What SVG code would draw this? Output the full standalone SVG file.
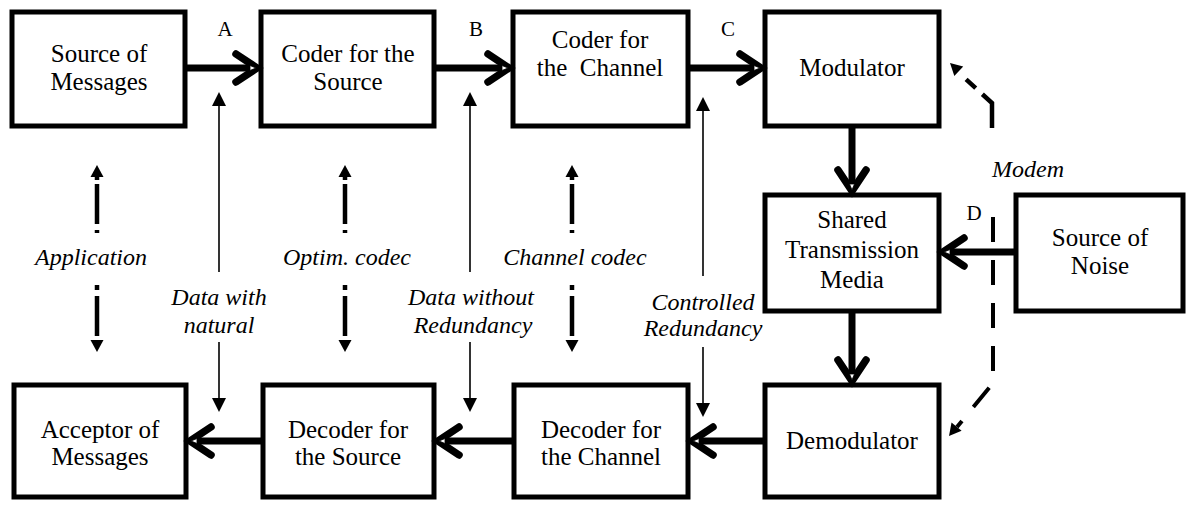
<svg xmlns="http://www.w3.org/2000/svg" xmlns:xlink="http://www.w3.org/1999/xlink" width="1190" height="506" viewBox="0 0 1190 506" font-family="Liberation Serif, DejaVu Serif, serif">
  <style>
    .box { fill: #fff; stroke: #000; stroke-width: 5; }
    text { font-family: 'Liberation Serif', 'DejaVu Serif', serif; }
    .lbl { font-size: 25px; fill: #000; text-anchor: middle; }
    .it { font-size: 24px; font-style: italic; fill: #000; text-anchor: middle; }
    .pt { font-size: 21px; fill: #000; text-anchor: middle; }
    .thick { stroke: #000; stroke-width: 7; fill: none; }
    .thin { stroke: #000; stroke-width: 1.6; fill: none; }
    .dash { stroke: #000; stroke-width: 4.5; fill: none; }
    .modem { stroke: #000; stroke-width: 4; fill: none; stroke-dasharray: 25 18; }
  </style>
  <defs>
    <!-- open chevron head, tip at origin, pointing +x -->
    <g id="chev">
      <path d="M-22,-14 L-1,0 L-22,14" stroke="#000" stroke-width="7.5" fill="none" stroke-linecap="round" stroke-linejoin="miter"/>
      <polygon points="-8,-2.5 -2,0 -8,2.5" fill="#fff" stroke="#000" stroke-width="0.8"/>
    </g>
    <!-- small filled head, tip at origin, pointing +x -->
    <polygon id="tri" points="0,0 -14,-7 -14,7" fill="#000"/>
    <polygon id="tri2" points="0,0 -12,-6.5 -12,6.5" fill="#000"/>
  </defs>

  <!-- nodes -->
  <g id="source-messages">
    <rect class="box" x="12" y="12" width="173" height="114"/>
    <text class="lbl" x="99" y="62">Source of</text>
    <text class="lbl" x="99" y="90">Messages</text>
  </g>
  <g id="coder-source">
    <rect class="box" x="261" y="12" width="173" height="114"/>
    <text class="lbl" x="348" y="62">Coder for the</text>
    <text class="lbl" x="348" y="90">Source</text>
  </g>
  <g id="coder-channel">
    <rect class="box" x="513" y="12" width="175" height="114"/>
    <text class="lbl" x="600" y="48">Coder for</text>
    <text class="lbl" x="600" y="76" xml:space="preserve">the  Channel</text>
  </g>
  <g id="modulator">
    <rect class="box" x="765" y="12" width="174" height="114"/>
    <text class="lbl" x="852" y="76">Modulator</text>
  </g>
  <g id="media">
    <rect class="box" x="765" y="195" width="174" height="116"/>
    <text class="lbl" x="852" y="228">Shared</text>
    <text class="lbl" x="852" y="258">Transmission</text>
    <text class="lbl" x="852" y="288">Media</text>
  </g>
  <g id="noise">
    <rect class="box" x="1016" y="195" width="167" height="116"/>
    <text class="lbl" x="1100" y="246">Source of</text>
    <text class="lbl" x="1100" y="274">Noise</text>
  </g>
  <g id="acceptor">
    <rect class="box" x="14" y="385" width="172" height="112"/>
    <text class="lbl" x="100" y="438">Acceptor of</text>
    <text class="lbl" x="100" y="465">Messages</text>
  </g>
  <g id="decoder-source">
    <rect class="box" x="263" y="385" width="171" height="112"/>
    <text class="lbl" x="348" y="438">Decoder for</text>
    <text class="lbl" x="348" y="465">the Source</text>
  </g>
  <g id="decoder-channel">
    <rect class="box" x="514" y="385" width="174" height="112"/>
    <text class="lbl" x="601" y="438">Decoder for</text>
    <text class="lbl" x="601" y="465">the Channel</text>
  </g>
  <g id="demodulator">
    <rect class="box" x="765" y="385" width="174" height="112"/>
    <text class="lbl" x="852" y="449">Demodulator</text>
  </g>

  <!-- connectors -->
  <g id="connectors">
    <!-- main signal path -->
    <line class="thick" x1="187" y1="68" x2="254" y2="68"/>
    <use xlink:href="#chev" transform="translate(258,68)"/>
    <line class="thick" x1="436" y1="68" x2="506" y2="68"/>
    <use xlink:href="#chev" transform="translate(510,68)"/>
    <line class="thick" x1="690" y1="68" x2="758" y2="68"/>
    <use xlink:href="#chev" transform="translate(762,68)"/>
    <line class="thick" x1="852" y1="128" x2="852" y2="188"/>
    <use xlink:href="#chev" transform="translate(852,192) rotate(90)"/>
    <line class="thick" x1="852" y1="313" x2="852" y2="378"/>
    <use xlink:href="#chev" transform="translate(852,382) rotate(90)"/>
    <line class="thick" x1="1014" y1="252" x2="946" y2="252"/>
    <use xlink:href="#chev" transform="translate(942,252) rotate(180)"/>
    <line class="thick" x1="763" y1="441" x2="695" y2="441"/>
    <use xlink:href="#chev" transform="translate(691,441) rotate(180)"/>
    <line class="thick" x1="512" y1="441" x2="441" y2="441"/>
    <use xlink:href="#chev" transform="translate(437,441) rotate(180)"/>
    <line class="thick" x1="261" y1="441" x2="193" y2="441"/>
    <use xlink:href="#chev" transform="translate(189,441) rotate(180)"/>

    <!-- point labels -->
    <text class="pt" x="225" y="36">A</text>
    <text class="pt" x="476" y="36">B</text>
    <text class="pt" x="728" y="36">C</text>
    <text class="pt" x="974" y="220">D</text>

    <!-- data flow arrows -->
    <line class="thin" x1="219" y1="272" x2="219" y2="102"/>
    <use xlink:href="#tri" transform="translate(219,92) rotate(-90)"/>
    <line class="thin" x1="219" y1="342" x2="219" y2="402"/>
    <use xlink:href="#tri" transform="translate(219,412) rotate(90)"/>
    <line class="thin" x1="470" y1="272" x2="470" y2="102"/>
    <use xlink:href="#tri" transform="translate(470,92) rotate(-90)"/>
    <line class="thin" x1="470" y1="342" x2="470" y2="402"/>
    <use xlink:href="#tri" transform="translate(470,412) rotate(90)"/>
    <line class="thin" x1="703" y1="276" x2="703" y2="107"/>
    <use xlink:href="#tri" transform="translate(703,97) rotate(-90)"/>
    <line class="thin" x1="703" y1="347" x2="703" y2="407"/>
    <use xlink:href="#tri" transform="translate(703,417) rotate(90)"/>

    <text class="it" x="219" y="305">Data with</text>
    <text class="it" x="219" y="333">natural</text>
    <text class="it" x="471" y="305">Data without</text>
    <text class="it" x="473" y="333">Redundancy</text>
    <text class="it" x="703" y="310">Controlled</text>
    <text class="it" x="703" y="336">Redundancy</text>

    <!-- layer correspondence arrows -->
    <g id="app-link">
      <use xlink:href="#tri2" transform="translate(97,165) rotate(-90)"/>
      <line class="dash" x1="97" y1="176" x2="97" y2="233" stroke-dasharray="4 4 40 6 5"/>
      <line class="dash" x1="97" y1="285" x2="97" y2="342" stroke-dasharray="5 6 40 4 4"/>
      <use xlink:href="#tri2" transform="translate(97,352) rotate(90)"/>
    </g>
    <g id="optim-link">
      <use xlink:href="#tri2" transform="translate(345,165) rotate(-90)"/>
      <line class="dash" x1="345" y1="176" x2="345" y2="233" stroke-dasharray="4 4 40 6 5"/>
      <line class="dash" x1="345" y1="285" x2="345" y2="342" stroke-dasharray="5 6 40 4 4"/>
      <use xlink:href="#tri2" transform="translate(345,352) rotate(90)"/>
    </g>
    <g id="channel-link">
      <use xlink:href="#tri2" transform="translate(572,165) rotate(-90)"/>
      <line class="dash" x1="572" y1="176" x2="572" y2="233" stroke-dasharray="4 4 40 6 5"/>
      <line class="dash" x1="572" y1="285" x2="572" y2="342" stroke-dasharray="5 6 40 4 4"/>
      <use xlink:href="#tri2" transform="translate(572,352) rotate(90)"/>
    </g>
    <text class="it" x="91" y="265">Application</text>
    <text class="it" x="347" y="265">Optim. codec</text>
    <text class="it" x="575" y="265">Channel codec</text>

    <!-- modem span -->
    <path class="dash" d="M992,128 L992,103 L959,73" stroke-dasharray="38 9 13 30"/>
    <use xlink:href="#tri2" transform="translate(950,63) rotate(-137)"/>
    <path class="modem" d="M993,217 L993,383 L957,427"/>
    <use xlink:href="#tri2" transform="translate(949,436) rotate(129)"/>
    <text class="it" x="1028" y="177">Modem</text>
  </g>
</svg>
